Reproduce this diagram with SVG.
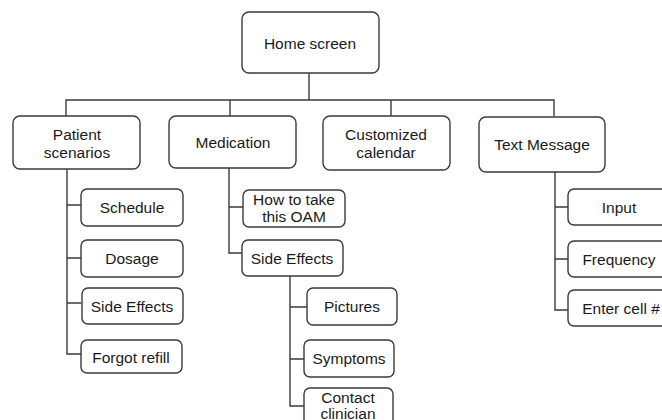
<svg xmlns="http://www.w3.org/2000/svg" width="662" height="420" viewBox="0 0 662 420">
<style>
.box{fill:#fff;stroke:#3a3a3a;stroke-width:1.4}
.t{font-family:"Liberation Sans",Arial,sans-serif;font-size:15.5px;fill:#1a1a1a;text-anchor:middle}
.c{fill:none;stroke:#3a3a3a;stroke-width:1.4}
</style>
<rect width="662" height="420" fill="#fff"/>
<g id="connectors" class="c">
<path d="M309 73V100M66 116V100H554V116M230 100V116M391 100V116"/>
<path d="M67 169V354H81M67 205H81M67 258H81M67 303H81"/>
<path d="M229 168V253H242M229 207H243"/>
<path d="M290 276V406H304M290 307H307M290 359H304"/>
<path d="M555 172V310H568M555 207H568M555 259H568"/>
</g>
<g id="home"><rect class="box" x="242" y="12" width="137" height="61" rx="7"/><text class="t" x="310" y="49">Home screen</text></g>
<g id="patient"><rect class="box" x="13" y="116" width="127" height="53" rx="7"/><text class="t" x="77" y="140">Patient</text><text class="t" x="77" y="158">scenarios</text></g>
<g id="medication"><rect class="box" x="169" y="116" width="127" height="52" rx="7"/><text class="t" x="233" y="148">Medication</text></g>
<g id="calendar"><rect class="box" x="323" y="116" width="127" height="54" rx="7"/><text class="t" x="386" y="140">Customized</text><text class="t" x="386" y="158">calendar</text></g>
<g id="textmsg"><rect class="box" x="479" y="117" width="126" height="55" rx="7"/><text class="t" x="542" y="150">Text Message</text></g>
<g id="schedule"><rect class="box" x="81" y="189" width="102" height="37" rx="6"/><text class="t" x="132" y="213">Schedule</text></g>
<g id="dosage"><rect class="box" x="81" y="240" width="102" height="37" rx="6"/><text class="t" x="132" y="264">Dosage</text></g>
<g id="sideeffects1"><rect class="box" x="82" y="288" width="101" height="36" rx="6"/><text class="t" x="132" y="312">Side Effects</text></g>
<g id="forgot"><rect class="box" x="81" y="340" width="101" height="33" rx="6"/><text class="t" x="131" y="363">Forgot refill</text></g>
<g id="howto"><rect class="box" x="243" y="190" width="102" height="37" rx="6"/><text class="t" x="294" y="205">How to take</text><text class="t" x="294" y="222">this OAM</text></g>
<g id="sideeffects2"><rect class="box" x="242" y="240" width="101" height="36" rx="6"/><text class="t" x="292" y="264">Side Effects</text></g>
<g id="pictures"><rect class="box" x="307" y="288" width="90" height="37" rx="6"/><text class="t" x="352" y="312">Pictures</text></g>
<g id="symptoms"><rect class="box" x="304" y="340" width="90" height="37" rx="6"/><text class="t" x="349" y="364">Symptoms</text></g>
<g id="contact"><rect class="box" x="304" y="388" width="89" height="45" rx="6"/><text class="t" x="348" y="403">Contact</text><text class="t" x="348" y="419">clinician</text></g>
<g id="input"><rect class="box" x="568" y="189" width="104" height="36" rx="6"/><text class="t" x="619" y="213">Input</text></g>
<g id="frequency"><rect class="box" x="568" y="241" width="104" height="36" rx="6"/><text class="t" x="619" y="265">Frequency</text></g>
<g id="entercell"><rect class="box" x="568" y="290" width="104" height="36" rx="6"/><text class="t" x="621" y="314">Enter cell #</text></g>
</svg>
